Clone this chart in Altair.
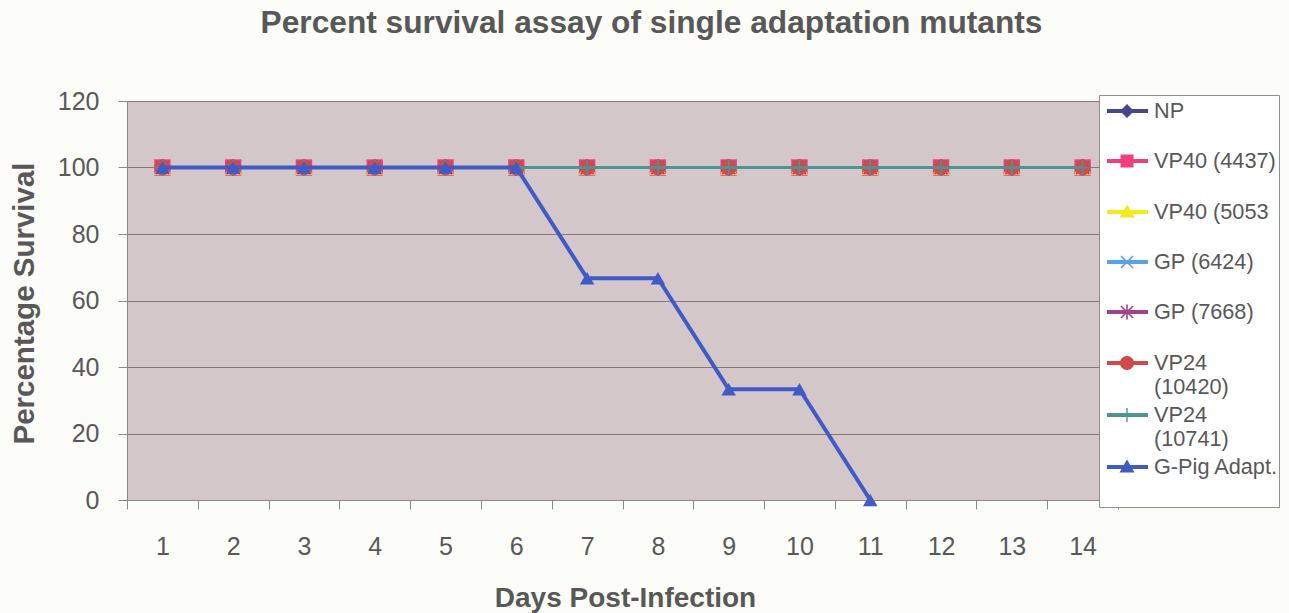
import altair as alt
import pandas as pd

# ---------------- data ----------------
days = [1, 2, 3, 4, 5, 6, 7, 8, 9, 10, 11, 12, 13, 14]
series_names = ["NP", "VP40 (4437)", "VP40 (5053", "GP (6424)", "GP (7668)",
                "VP24 (10420)", "VP24 (10741)", "G-Pig Adapt."]
np_survival = [100, 100, 100, 100, 100, 100, 100, 100, 100, 100, 100, 100, 100, 100]
vp40_4437 = [100, 100, 100, 100, 100, 100, 100, 100, 100, 100, 100, 100, 100, 100]
vp40_5053 = [100, 100, 100, 100, 100, 100, 100, 100, 100, 100, 100, 100, 100, 100]
gp_6424 = [100, 100, 100, 100, 100, 100, 100, 100, 100, 100, 100, 100, 100, 100]
gp_7668 = [100, 100, 100, 100, 100, 100, 100, 100, 100, 100, 100, 100, 100, 100]
vp24_10420 = [100, 100, 100, 100, 100, 100, 100, 100, 100, 100, 100, 100, 100, 100]
vp24_10741 = [100, 100, 100, 100, 100, 100, 100, 100, 100, 100, 100, 100, 100, 100]
gpig_adapt = [100, 100, 100, 100, 100, 100, 66.7, 66.7, 33.3, 33.3, 0]
y_ticks = [0, 20, 40, 60, 80, 100, 120]

all_values = [np_survival, vp40_4437, vp40_5053, gp_6424, gp_7668,
              vp24_10420, vp24_10741, gpig_adapt]

# ---------------- styles ----------------
colors = ["#45478c", "#f0407c", "#f2ea1c", "#5aa2e8", "#a2428f",
          "#d04a4a", "#4d9494", "#3f5bc6"]
TEXT = "#585858"
FONT = "Liberation Sans"

rows = []
for name, vals in zip(series_names, all_values):
    for d, v in zip(days, vals):
        rows.append({"series": name, "day": d, "survival": v})
df = pd.DataFrame(rows)

# ---- legend symbol paths (line + marker), units of 16 px ----
U = 16.0


def f(v):
    return f"{v / U:.4f}"


def poly(points):
    area = 0.0
    for i in range(len(points)):
        x1, y1 = points[i]
        x2, y2 = points[(i + 1) % len(points)]
        area += x1 * y2 - x2 * y1
    if area < 0:
        points = points[::-1]
    s = "M" + f(points[0][0]) + "," + f(points[0][1])
    for x, y in points[1:]:
        s += "L" + f(x) + "," + f(y)
    return s + "Z"


def seg(x1, y1, x2, y2, t):
    dx, dy = x2 - x1, y2 - y1
    ln = (dx * dx + dy * dy) ** 0.5
    nx, ny = -dy / ln * t, dx / ln * t
    return poly([(x1 + nx, y1 + ny), (x2 + nx, y2 + ny), (x2 - nx, y2 - ny), (x1 - nx, y1 - ny)])


# row height (px) below each legend entry's centre, sets the spacing between entries
row_reach = [34, 35, 34, 34, 35, 34, 36, 40]
line_part = poly([(-20, -2), (21, -2), (21, 2), (-20, 2)])
markers = [
    poly([(0, -7), (7, 0), (0, 7), (-7, 0)]),
    poly([(-6.5, -6.5), (6.5, -6.5), (6.5, 6.5), (-6.5, 6.5)]),
    poly([(0, -7.5), (7.5, 5.5), (-7.5, 5.5)]),
    seg(-6, -6, 6, 6, 0.8) + seg(-6, 6, 6, -6, 0.8),
    seg(-6, -6, 6, 6, 0.8) + seg(-6, 6, 6, -6, 0.8) + seg(0, -7.5, 0, 7.5, 0.8),
    "M" + f(7) + ",0A" + f(7) + "," + f(7) + " 0 1,1 " + f(-7) + ",0A" + f(7) + "," + f(7) + " 0 1,1 " + f(7) + ",0Z",
    seg(0, -7, 0, 7, 0.7),
    poly([(0, -7.5), (7.5, 5.5), (-7.5, 5.5)]),
]
legend_paths = ["M0," + f(r) + line_part + m for r, m in zip(row_reach, markers)]

plot_shapes = ["diamond", "square", "triangle-up", "M-1,-1L1,1M-1,1L1,-1",
               "M-1,-1L1,1M-1,1L1,-1M0,-1.3L0,1.3", "circle", "M0,-1L0,1M-1,0L1,0",
               "triangle-up"]
plot_filled = [True, True, True, False, False, True, False, True]
plot_sizes = [230, 270, 290, 170, 170, 250, 260, 210]
line_widths = [3, 3, 3, 3, 3, 3, 3, 4]

# ---------------- encodings ----------------
x_enc = alt.X(
    "day:O",
    bandPosition=0.5,
    scale=alt.Scale(type="band", domain=days, paddingInner=0, paddingOuter=0),
    axis=alt.Axis(
        title="Days Post-Infection", tickBand="extent", labelAngle=0, grid=False,
        tickSize=9, tickColor="#8a8a8a", domainColor="#8a8a8a",
        labelFontSize=25, labelColor=TEXT, labelPadding=25, labelFont=FONT,
        titleFontSize=28, titleFontWeight="bold", titleColor=TEXT, titleFont=FONT,
        titleX=498, titleY=84, titleBaseline="top", titleAlign="center",
    ),
)
y_enc = alt.Y(
    "survival:Q",
    scale=alt.Scale(domain=[0, 120], nice=False, zero=True),
    axis=alt.Axis(
        title="Percentage Survival", values=y_ticks, grid=True,
        gridColor="#85797a", gridWidth=1, tickSize=9, tickColor="#8a8a8a",
        domainColor="#8a8a8a", labelFontSize=25, labelColor=TEXT, labelPadding=19,
        labelFont=FONT, titleFontSize=29.5, titleFontWeight="bold", titleColor=TEXT,
        titleFont=FONT, titleAngle=270, titleX=-88, titleY=202,
        titleBaseline="bottom", titleAlign="center",
    ),
)

layers = []
for i, name in enumerate(series_names):
    sub = df[df["series"] == name]
    base = alt.Chart(sub)
    layers.append(
        base.mark_line(color=colors[i], strokeWidth=line_widths[i]).encode(x=x_enc, y=y_enc)
    )
    if plot_filled[i]:
        pt = base.mark_point(shape=plot_shapes[i], filled=True, size=plot_sizes[i],
                             color=colors[i], opacity=1)
    else:
        pt = base.mark_point(shape=plot_shapes[i], filled=False, size=plot_sizes[i],
                             color=colors[i], opacity=1, strokeWidth=1.6)
    layers.append(pt.encode(x=x_enc, y=y_enc))

legend = alt.Legend(
    title=None, orient="none", legendX=972, legendY=-6, direction="vertical",
    padding=0, fillColor="#ffffff", strokeColor="#8f8f8f",
    symbolSize=1024, symbolStrokeWidth=0, symbolOffset=12, rowPadding=0, labelOffset=11,
    labelFontSize=21.7, labelColor=TEXT, labelFont=FONT, labelLimit=400,
    labelExpr="indexof(datum.label, 'VP24') == 0 ? split(datum.label, ' ') : datum.label",
)

legend_layer = alt.Chart(df).transform_filter("false").mark_point(
    filled=True, opacity=1
).encode(
    x=x_enc, y=y_enc,
    color=alt.Color("series:N", scale=alt.Scale(domain=series_names, range=colors), legend=legend),
    shape=alt.Shape("series:N", scale=alt.Scale(domain=series_names, range=legend_paths), legend=legend),
)

chart = alt.layer(*layers, legend_layer).properties(
    width=991,
    height=399,
    background="#fcfcf8",
    view=alt.ViewBackground(fill="#d4c7c9", strokeWidth=0),
    padding={"left": 127, "top": 101, "right": 171, "bottom": 113},
    autosize=alt.AutoSizeParams(type="none"),
    title=alt.Title(
        "Percent survival assay of single adaptation mutants",
        fontSize=31.7, fontWeight="bold", font=FONT, color=TEXT,
        anchor="middle", frame="group", dx=29, offset=24, baseline="alphabetic",
    ),
).configure_view(fill="#d4c7c9", strokeWidth=0).configure(font=FONT)

chart.save("out.html", embed_options={"renderer": "svg", "actions": False})
